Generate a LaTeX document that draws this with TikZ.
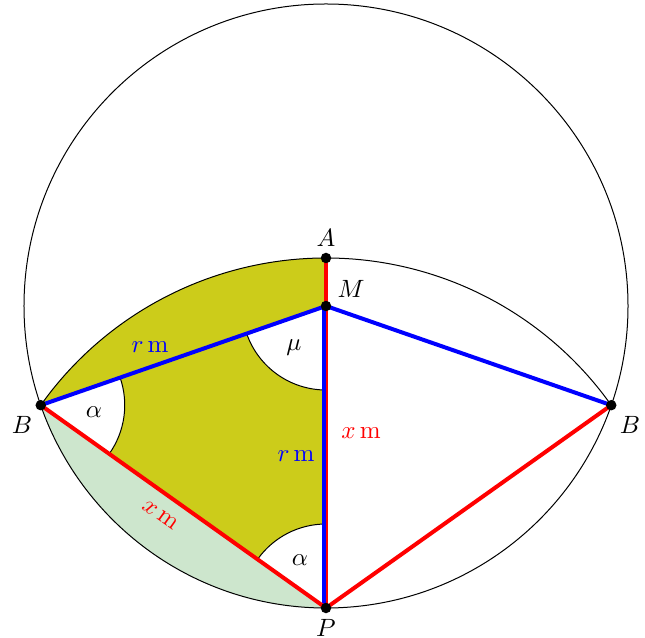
\documentclass[tikz,border=0pt]{standalone}
\usetikzlibrary{calc}
\definecolor{fillyellow}{RGB}{204,204,26}
\definecolor{fillgreen}{RGB}{205,230,205}
\begin{document}
\begin{tikzpicture}[x=0.4pt,y=0.4pt,
  dot/.style={circle,fill=black,inner sep=0pt,minimum size=4.2pt},
  thickline/.style={line width=1.6pt},
  thinline/.style={draw=black,line width=0.4pt}]
\useasboundingbox (-326,-332) rectangle (319,306);
% geometry
\coordinate (M) at (0,0);
\coordinate (P) at (0,-302);
\coordinate (A) at (0,48);
\coordinate (B1) at (-285.25,-99.19);
\coordinate (B2) at (285.25,-99.19);
% fills
\fill[fillyellow] (P) -- (B1) arc[start angle=144.59, end angle=90, radius=350] -- cycle;
\fill[fillgreen] (B1) arc[start angle=199.17, end angle=270, radius=302] -- cycle;
% angle wedges
\fill[white] (M) -- ++(199.17:84) arc[start angle=199.17, end angle=270, radius=84] -- cycle;
\draw[thinline] (M) ++(199.17:84) arc[start angle=199.17, end angle=270, radius=84];
\fill[white] (B1) -- ++(-35.41:84) arc[start angle=-35.41, end angle=19.17, radius=84] -- cycle;
\draw[thinline] (B1) ++(-35.41:84) arc[start angle=-35.41, end angle=19.17, radius=84];
\fill[white] (P) -- ++(90:84) arc[start angle=90, end angle=144.59, radius=84] -- cycle;
\draw[thinline] (P) ++(90:84) arc[start angle=90, end angle=144.59, radius=84];
% circles
\draw[thinline] (M) circle[radius=302];
\draw[thinline] (B1) arc[start angle=144.59, end angle=35.41, radius=350];
% segments
\draw[red,thickline] (A) -- (P);
\draw[blue,thickline] ([xshift=-0.8pt]M) -- ([xshift=-0.8pt]P);
\draw[red,thickline] (B1) -- (P);
\draw[red,thickline] (P) -- (B2);
\draw[blue,thickline] (M) -- (B1);
\draw[blue,thickline] (M) -- (B2);
% dots
\node[dot] (dA) at (A) {};
\node[dot] (dM) at (M) {};
\node[dot] (dP) at (P) {};
\node[dot] (dB1) at (B1) {};
\node[dot] (dB2) at (B2) {};
% point labels
\node (lA) at (0,68) {$A$};
\node (lM) at (25,17) {$M$};
\node (lB1) at (-304,-119) {$B$};
\node (lB2) at (304,-119) {$B$};
\node (lP) at (0,-322) {$P$};
% angle labels
\node (lmu) at (-32,-42) {$\mu$};
\node (lalB) at (-232,-106) {$\alpha$};
\node (lalP) at (-26,-254) {$\alpha$};
% length labels
\node[blue] (lr1) at (-176,-41) {$r\,\mathrm{m}$};
\node[blue] (lr2) at (-30,-150) {$r\,\mathrm{m}$};
\node[red] (lx1) at (35,-127) {$x\,\mathrm{m}$};
\node[red,rotate=-35.41] (lx2) at (-166,-209) {$x\,\mathrm{m}$};
\end{tikzpicture}
\end{document}
